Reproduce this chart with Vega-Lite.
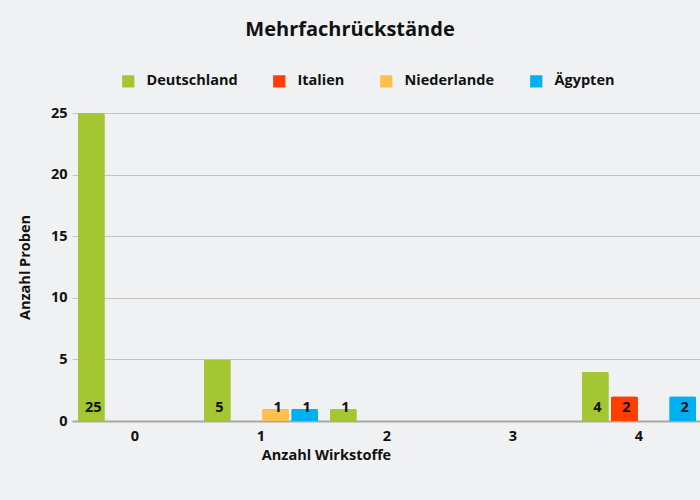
{
  "$schema": "https://vega.github.io/schema/vega-lite/v6.json",
  "autosize": "none",
  "width": 630,
  "height": 308,
  "padding": {"left": 72, "top": 113, "right": 0, "bottom": 79},
  "background": "#f0f1f3",
  "title": {
    "text": "Mehrfachrückstände",
    "font": "Open Sans",
    "fontSize": 20,
    "fontWeight": "bold",
    "color": "#111111",
    "anchor": "middle",
    "dx": -37,
    "offset": 34
  },
  "config": {
    "view": {"stroke": null},
    "font": "Open Sans"
  },
  "data": {
    "values": [
      {"Wirkstoffe": "0", "Land": "Deutschland", "Anzahl": 25},
      {"Wirkstoffe": "1", "Land": "Deutschland", "Anzahl": 5},
      {"Wirkstoffe": "1", "Land": "Niederlande", "Anzahl": 1},
      {"Wirkstoffe": "1", "Land": "Ägypten", "Anzahl": 1},
      {"Wirkstoffe": "2", "Land": "Deutschland", "Anzahl": 1},
      {"Wirkstoffe": "4", "Land": "Deutschland", "Anzahl": 4},
      {"Wirkstoffe": "4", "Land": "Italien", "Anzahl": 2},
      {"Wirkstoffe": "4", "Land": "Ägypten", "Anzahl": 2}
    ]
  },
  "encoding": {
    "x": {
      "field": "Wirkstoffe",
      "type": "nominal",
      "scale": {"domain": ["0", "1", "2", "3", "4"], "paddingInner": 0, "paddingOuter": 0},
      "axis": {
        "title": "Anzahl Wirkstoffe",
        "labelAngle": 0,
        "labelFont": "Open Sans",
        "labelFontSize": 14.5,
        "labelFontWeight": "bold",
        "labelColor": "#111111",
        "labelPadding": 8,
        "ticks": false,
        "domainColor": "#a8a8a8",
        "domainWidth": 2,
        "titleFont": "Open Sans",
        "titleFontSize": 14.5,
        "titleFontWeight": "bold",
        "titleColor": "#111111",
        "titlePadding": 6,
        "titleX": 254
      }
    },
    "xOffset": {
      "field": "Land",
      "type": "nominal",
      "scale": {"domain": ["Deutschland", "Italien", "Niederlande", "Ägypten"], "paddingInner": 0.07, "paddingOuter": 0.2}
    }
  },
  "layer": [
    {
      "mark": {"type": "bar", "cornerRadiusTopLeft": 2, "cornerRadiusTopRight": 2},
      "encoding": {
        "y": {
          "field": "Anzahl",
          "type": "quantitative",
          "scale": {"domain": [0, 25], "nice": false},
          "axis": {
            "title": "Anzahl Proben",
            "values": [0, 5, 10, 15, 20, 25],
            "domain": false,
            "ticks": false,
            "gridColor": "#c4c4c4",
            "gridWidth": 1,
            "labelFont": "Open Sans",
            "labelFontSize": 14.5,
            "labelFontWeight": "bold",
            "labelColor": "#111111",
            "labelPadding": 5,
            "titleFont": "Open Sans",
            "titleFontSize": 14.5,
            "titleFontWeight": "bold",
            "titleColor": "#111111",
            "titlePadding": 18
          }
        },
        "color": {
          "field": "Land",
          "type": "nominal",
          "scale": {
            "domain": ["Deutschland", "Italien", "Niederlande", "Ägypten"],
            "range": ["#a4c632", "#ff3d00", "#ffc04a", "#00b0f0"]
          },
          "legend": {
            "title": null,
            "orient": "none",
            "direction": "horizontal",
            "legendX": 49,
            "legendY": -39,
            "symbolType": "square",
            "symbolSize": 150,
            "symbolStrokeWidth": 0,
            "symbolOpacity": 1,
            "labelFont": "Open Sans",
            "labelFontSize": 14.5,
            "labelFontWeight": "bold",
            "labelColor": "#111111",
            "labelOffset": 11,
            "columnPadding": 34
          }
        }
      }
    },
    {
      "mark": {"type": "text", "font": "Open Sans", "fontSize": 14.5, "fontWeight": "bold", "color": "#111111", "baseline": "alphabetic", "dy": -9, "dx": 2},
      "encoding": {
        "y": {"datum": 0, "type": "quantitative"},
        "text": {"field": "Anzahl", "type": "quantitative"}
      }
    }
  ]
}
